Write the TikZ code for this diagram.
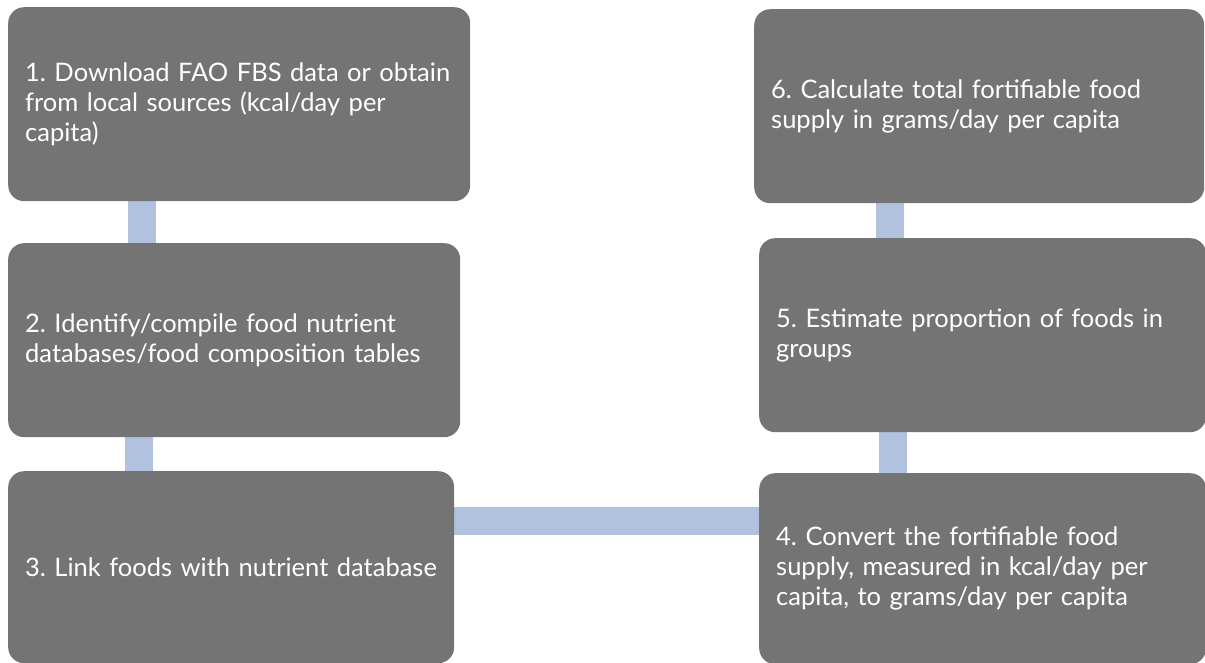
\documentclass[tikz,border=0pt]{standalone}
\usepackage{fontspec}
\setmainfont{Lato}
\usetikzlibrary{backgrounds}
\definecolor{boxgray}{HTML}{737473}
\definecolor{linkblue}{HTML}{B0C2DD}
\tikzset{
  stepbox/.style={draw=none, fill=boxgray, rounded corners=16pt, text=white,
    align=left, inner xsep=17pt, inner ysep=0pt, anchor=north west,
    font=\fontsize{25.5}{30}\selectfont\frenchspacing},
  link/.style={draw=linkblue, line width=28pt}
}
\newcommand{\stepnode}[6]{%
  % name, left, top, right, bottom, text
  \node[stepbox, text width={#4-#2-34pt}, minimum width={#4-#2}, minimum height={#5-#3}]
    (#1) at (#2,-#3) {#6};}
\begin{document}
\begin{tikzpicture}[x=1pt,y=1pt]
  \useasboundingbox (0,0) rectangle (1205,-663);
  \stepnode{n1}{8}{7}{470}{201}{1. Download FAO FBS data or obtain\\from local sources (kcal/day per\\capita)}
  \stepnode{n2}{8}{243}{460}{437}{2. Identify/compile food nutrient\\databases/food composition tables}
  \stepnode{n3}{8}{471}{454}{663}{3. Link foods with nutrient database}
  \stepnode{n4}{759}{473}{1206}{664}{4. Convert the fortifiable food\\supply, measured in kcal/day per\\capita, to grams/day per capita}
  \stepnode{n5}{759}{238}{1206}{432}{5. Estimate proportion of foods in\\groups}
  \stepnode{n6}{754}{9}{1204}{203}{6. Calculate total fortifiable food\\supply in grams/day per capita}
  \begin{scope}[on background layer]
    \draw[link] ([xshift=134pt]n1.south west) -- ([xshift=134pt]n1.south west |- n2.north);
    \draw[link] ([xshift=131pt]n2.south west) -- ([xshift=131pt]n2.south west |- n3.north);
    \draw[link] ([yshift=-50pt]n3.north east) -- ([yshift=-50pt]n3.north east -| n4.west);
    \draw[link] ([xshift=136pt]n6.south west) -- ([xshift=136pt]n6.south west |- n5.north);
    \draw[link] ([xshift=134pt]n5.south west) -- ([xshift=134pt]n5.south west |- n4.north);
  \end{scope}
\end{tikzpicture}
\end{document}
